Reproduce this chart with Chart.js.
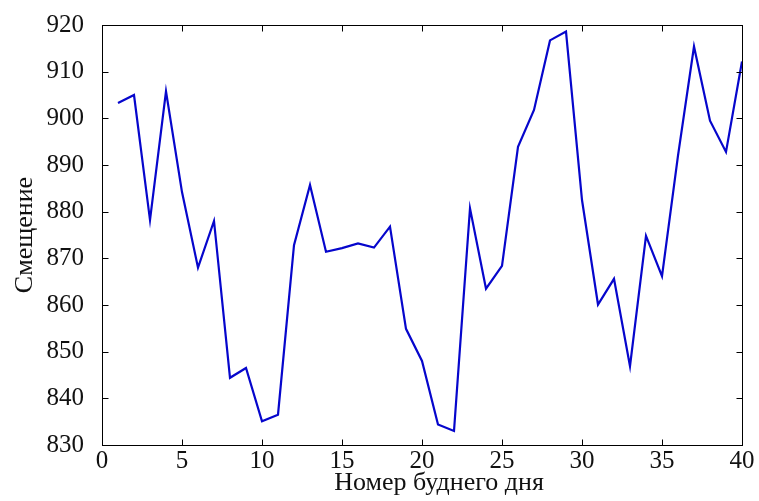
<!DOCTYPE html>
<html>
<head>
<meta charset="utf-8">
<script src="https://cdn.jsdelivr.net/npm/chart.js@4"></script>
<style>
html,body{margin:0;padding:0;background:#fff;}
#wrap{width:759px;height:501px;position:relative;}
</style>
</head>
<body>
<div id="wrap"><canvas id="c" width="759" height="501"></canvas></div>
<script>
const days = [1,2,3,4,5,6,7,8,9,10,11,12,13,14,15,16,17,18,19,20,21,22,23,24,25,26,27,28,29,30,31,32,33,34,35,36,37,38,39,40];
const offsets = [903.3,905.0,878.2,905.8,884.2,868.0,878.0,844.4,846.5,835.1,836.5,872.8,885.7,871.4,872.2,873.2,872.3,876.8,854.9,848.0,834.4,833.0,880.7,863.5,868.4,893.9,901.8,916.7,918.6,882.5,860.1,865.6,846.9,874.8,866.2,892.0,915.4,899.5,892.8,912.2];
const xTicks = [0,5,10,15,20,25,30,35,40];
const yTicks = [830,840,850,860,870,880,890,900,910,920];
const xTitle = 'Номер буднего дня';
const yTitle = 'Смещение';

const FONT = "'Liberation Serif', 'DejaVu Serif', serif";

const boxPlugin = {
  id: 'matlabBox',
  afterDraw(chart) {
    const ctx = chart.ctx;
    const a = chart.chartArea;
    const xs = chart.scales.x, ys = chart.scales.y;
    ctx.save();
    ctx.strokeStyle = '#000';
    ctx.lineWidth = 1;
    const L = Math.round(a.left) + 0.5, R = Math.round(a.right) + 0.5;
    const T = Math.round(a.top) + 0.5, B = Math.round(a.bottom) + 0.5;
    ctx.strokeRect(L, T, R - L, B - T);
    const tl = 6;
    ctx.beginPath();
    xTicks.forEach(v => {
      const px = Math.round(xs.getPixelForValue(v)) + 0.5;
      ctx.moveTo(px, B); ctx.lineTo(px, B - tl);
      ctx.moveTo(px, T); ctx.lineTo(px, T + tl);
    });
    yTicks.forEach(v => {
      const py = Math.round(ys.getPixelForValue(v)) + 0.5;
      ctx.moveTo(L, py); ctx.lineTo(L + tl, py);
      ctx.moveTo(R, py); ctx.lineTo(R - tl, py);
    });
    ctx.stroke();
    // x-axis title
    ctx.fillStyle = '#111';
    ctx.font = "26px " + FONT;
    ctx.textAlign = 'center';
    ctx.textBaseline = 'alphabetic';
    ctx.fillText(xTitle, 439, 490);
    ctx.restore();
  }
};

new Chart(document.getElementById('c'), {
  type: 'line',
  data: {
    labels: days,
    datasets: [{
      data: days.map((d, i) => ({x: d, y: offsets[i]})),
      borderColor: '#0606cc',
      borderWidth: 2.2,
      pointRadius: 0,
      tension: 0,
      fill: false
    }]
  },
  options: {
    responsive: false,
    animation: false,
    devicePixelRatio: 1,
    layout: { padding: { top: 20, right: 17, left: 0, bottom: 0 } },
    plugins: { legend: { display: false }, tooltip: { enabled: false } },
    scales: {
      x: {
        type: 'linear',
        min: 0, max: 40,
        grid: { display: false },
        border: { display: false },
        afterBuildTicks: s => { s.ticks = xTicks.map(v => ({value: v})); },
        afterFit: s => { s.height = 56; },
        ticks: { color: '#111', font: { family: FONT, size: 25 }, padding: -7, maxRotation: 0 }
      },
      y: {
        type: 'linear',
        min: 830, max: 920,
        grid: { display: false },
        border: { display: false },
        afterBuildTicks: s => { s.ticks = yTicks.map(v => ({value: v})); },
        afterFit: s => { s.width = 102; },
        ticks: { color: '#111', font: { family: FONT, size: 25 }, padding: 10 },
        title: { display: true, text: yTitle, color: '#111', font: { family: FONT, size: 26 }, padding: { top: 10, bottom: 0 } }
      }
    }
  },
  plugins: [boxPlugin]
});
</script>
</body>
</html>
